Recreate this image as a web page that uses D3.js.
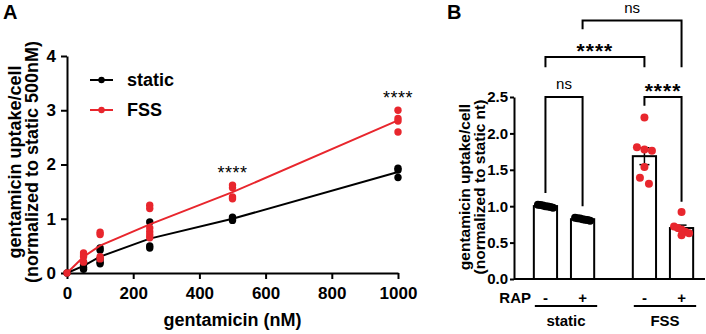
<!DOCTYPE html>
<html>
<head>
<meta charset="utf-8">
<script src="https://cdn.jsdelivr.net/npm/d3@7"></script>
<style>
  body { margin: 0; background: #fff; }
  svg { display: block; font-family: "Liberation Sans", Arial, sans-serif; }
</style>
</head>
<body>
<svg id="chart" width="706" height="334"></svg>
<script>
// ---- panel A data: uptake per dose, one list of replicates per dose
const doses = [0, 50, 100, 250, 500, 1000];
const staticUptake = [[0], [0.2, 0.15, 0.1, 0.07], [0.46, 0.42, 0.26, 0.2, 0.17], [0.94, 0.5, 0.46], [1.03, 1.0, 0.97], [1.93, 1.9, 1.76]];
const fssUptake = [[0], [0.37, 0.33, 0.3, 0.2], [0.75, 0.71, 0.3, 0.26], [1.25, 1.19, 0.83, 0.76, 0.7, 0.65], [1.62, 1.57, 1.4, 1.37], [3.0, 2.85, 2.8, 2.6]];
const doseTicks = [0, 200, 400, 600, 800, 1000];
const uptakeTicks = [0, 1, 2, 3, 4];
const starDoses = [500, 1000];

// ---- panel B data
const groups = ["static", "FSS"];
const rapLevels = ["-", "+"];
const staticNoRap = [1.02, 1.015, 1.01, 1.0, 0.995, 0.99, 0.98];
const staticRap = [0.84, 0.835, 0.83, 0.82, 0.815, 0.81, 0.8];
const fssNoRap = [2.22, 1.81, 1.78, 1.76, 1.54, 1.39, 1.31];
const fssRap = [0.92, 0.72, 0.7, 0.68, 0.65, 0.63, 0.6];
const normTicks = [0, 0.5, 1.0, 1.5, 2.0, 2.5];

const red = "#e8262d";
const svg = d3.select("#chart");

function styleAxis(g, size) {
  g.attr("font-family", null).attr("font-size", size).attr("font-weight", "bold");
  g.selectAll("path, line").attr("stroke", "#000").attr("stroke-width", 2);
  g.selectAll("text").attr("fill", "#000");
}

// prism-like scatter: points closer than one dot go in a row, squeezed to fit the bar
function scatterRows(values, cy, rowH, gap, maxSpan) {
  const sorted = values.map(v => ({v, y: cy(v)})).sort((a, b) => a.y - b.y);
  const out = [];
  let i = 0;
  while (i < sorted.length) {
    const row = [sorted[i]];
    let j = i + 1;
    while (j < sorted.length && sorted[j].y - sorted[i].y < rowH) row.push(sorted[j++]);
    const sp = row.length > 1 ? Math.min(gap, maxSpan / (row.length - 1)) : 0;
    row.forEach((p, k) => out.push({v: p.v, y: p.y, dx: (k - (row.length - 1) / 2) * sp}));
    i = j;
  }
  return out;
}

// ================= panel A =================
const x = d3.scaleLinear().domain([0, 1000]).range([67, 398]);
const y = d3.scaleLinear().domain([0, 4]).range([273, 56]);
const gA = svg.append("g");

gA.append("g")
  .attr("transform", `translate(0,${y(0)})`)
  .call(d3.axisBottom(x).tickValues(doseTicks).tickFormat(d3.format("d")).tickSize(6).tickSizeOuter(0).tickPadding(8))
  .call(g => styleAxis(g, 17));

gA.append("g")
  .attr("transform", `translate(${x(0)},0)`)
  .call(d3.axisLeft(y).tickValues(uptakeTicks).tickFormat(d3.format("d")).tickSize(6).tickSizeOuter(0).tickPadding(5))
  .call(g => styleAxis(g, 17));

gA.append("text").attr("x", 3).attr("y", 19)
  .attr("font-size", 20).attr("font-weight", "bold").text("A");

gA.append("text")
  .attr("x", (x(0) + x(1000)) / 2).attr("y", 326)
  .attr("text-anchor", "middle").attr("font-size", 18).attr("font-weight", "bold")
  .text("gentamicin (nM)");

const yTitleA = gA.append("g").attr("transform", "translate(0,162) rotate(-90)")
  .attr("text-anchor", "middle").attr("font-size", 18).attr("font-weight", "bold");
yTitleA.append("text").attr("y", 21).text("gentamicin uptake/cell");
yTitleA.append("text").attr("y", 38).text("(normalized to static 500nM)");

const seriesA = [
  {name: "static", color: "#000", reps: staticUptake},
  {name: "FSS", color: red, reps: fssUptake}
];

const line = d3.line().x(d => x(d.dose)).y(d => y(d.mean));

seriesA.forEach(s => {
  const means = doses.map((d, i) => ({dose: d, mean: d3.mean(s.reps[i])}));
  gA.append("path").datum(means)
    .attr("fill", "none").attr("stroke", s.color).attr("stroke-width", 2)
    .attr("d", line);
  const pts = doses.flatMap((d, i) => s.reps[i].map(v => ({dose: d, v})));
  gA.append("g").selectAll("circle").data(pts).join("circle")
    .attr("cx", d => x(d.dose)).attr("cy", d => y(d.v)).attr("r", 3.7)
    .attr("fill", s.color);
});

// legend
seriesA.forEach((s, i) => {
  const ly = 80 + i * 30;
  const lg = gA.append("g");
  lg.append("line").attr("x1", 90).attr("x2", 113).attr("y1", ly).attr("y2", ly)
    .attr("stroke", s.color).attr("stroke-width", 2);
  lg.append("circle").attr("cx", 101.5).attr("cy", ly).attr("r", 3.2).attr("fill", s.color);
  lg.append("text").attr("x", 127).attr("y", ly).attr("dy", "0.35em")
    .attr("font-size", 18).attr("font-weight", "bold").text(s.name);
});

// significance stars above each flagged dose
starDoses.forEach(d => {
  const i = doses.indexOf(d);
  const top = d3.max([...staticUptake[i], ...fssUptake[i]]);
  gA.append("text").attr("x", x(d)).attr("y", y(top) - 6)
    .attr("text-anchor", "middle").attr("font-size", 18).attr("letter-spacing", 0.5)
    .text("****");
});

// ================= panel B =================
const yB = d3.scaleLinear().domain([0, 2.5]).range([279, 97]);
const axisBx = 514;
const xg = d3.scaleBand().domain(groups).range([517, 710]).paddingInner(0.25).paddingOuter(0.1);
const xr = d3.scaleBand().domain(rapLevels).range([0, xg.bandwidth()]).paddingInner(0.374).paddingOuter(0.187);
const gB = svg.append("g");

const barData = [
  {group: "static", rap: "-", vals: staticNoRap, color: "#000"},
  {group: "static", rap: "+", vals: staticRap, color: "#000"},
  {group: "FSS", rap: "-", vals: fssNoRap, color: red},
  {group: "FSS", rap: "+", vals: fssRap, color: red}
];
barData.forEach(b => {
  b.mean = d3.mean(b.vals);
  b.sem = d3.deviation(b.vals) / Math.sqrt(b.vals.length);
  b.x0 = xg(b.group) + xr(b.rap);
  b.cx = b.x0 + xr.bandwidth() / 2;
});

gB.append("g")
  .attr("transform", `translate(${axisBx},0)`)
  .call(d3.axisLeft(yB).tickValues(normTicks).tickFormat(d3.format(".1f")).tickSize(4).tickSizeOuter(0).tickPadding(2))
  .call(g => styleAxis(g, 15));

gB.append("line").attr("x1", axisBx).attr("x2", 705).attr("y1", yB(0)).attr("y2", yB(0))
  .attr("stroke", "#000").attr("stroke-width", 2);

gB.selectAll("rect.bar").data(barData).join("rect")
  .attr("x", d => d.x0).attr("width", xr.bandwidth())
  .attr("y", d => yB(d.mean)).attr("height", d => yB(0) - yB(d.mean))
  .attr("fill", "#fff").attr("stroke", "#000").attr("stroke-width", 2);

// SEM bars
barData.forEach(b => {
  const eg = gB.append("g").attr("stroke", "#000").attr("stroke-width", 1.5);
  eg.append("line").attr("x1", b.cx).attr("x2", b.cx).attr("y1", yB(b.mean - b.sem)).attr("y2", yB(b.mean + b.sem));
  [b.mean - b.sem, b.mean + b.sem].forEach(v =>
    eg.append("line").attr("x1", b.cx - 5).attr("x2", b.cx + 5).attr("y1", yB(v)).attr("y2", yB(v)));
});

barData.forEach(b => {
  gB.append("g").selectAll("circle").data(scatterRows(b.vals, yB, 8, 9, 15)).join("circle")
    .attr("cx", d => b.cx + d.dx).attr("cy", d => d.y).attr("r", 4).attr("fill", b.color);
});

gB.append("text").attr("x", 447).attr("y", 19)
  .attr("font-size", 20).attr("font-weight", "bold").text("B");

const yTitleB = gB.append("g").attr("transform", "translate(0,187) rotate(-90)")
  .attr("text-anchor", "middle").attr("font-size", 15.5).attr("font-weight", "bold");
yTitleB.append("text").attr("y", 470).text("gentamicin uptake/cell");
yTitleB.append("text").attr("y", 485).text("(normalized to static nt)");

// RAP row and group labels
gB.append("text").attr("x", 531).attr("y", 303).attr("text-anchor", "end")
  .attr("font-size", 15).attr("font-weight", "bold").text("RAP");
gB.selectAll("text.rap").data(barData).join("text")
  .attr("x", d => d.cx).attr("y", 303).attr("text-anchor", "middle")
  .attr("font-size", 15).attr("font-weight", "bold").text(d => d.rap);
groups.forEach(g => {
  const left = xg(g) + xr(rapLevels[0]);
  const right = xg(g) + xr(rapLevels[1]) + xr.bandwidth();
  gB.append("line").attr("x1", left + 1).attr("x2", right + 3).attr("y1", 306).attr("y2", 306)
    .attr("stroke", "#000").attr("stroke-width", 2);
  gB.append("text").attr("x", (left + right) / 2 + 2).attr("y", 326).attr("text-anchor", "middle")
    .attr("font-size", 15).attr("font-weight", "bold").text(g);
});

// comparison brackets
const cxOf = (g, r) => barData.find(b => b.group === g && b.rap === r).cx;
const brackets = [
  {a: ["static", "-"], b: ["static", "+"], top: 2.5, endA: 1.18, endB: 1.0, label: "ns"},
  {a: ["FSS", "-"], b: ["FSS", "+"], top: 2.5, endA: 2.38, endB: 1.06, label: "****"},
  {a: ["static", "-"], b: ["FSS", "-"], top: 3.05, endA: 2.91, endB: 2.91, label: "****"},
  {a: ["static", "+"], b: ["FSS", "+"], top: 3.55, endA: 3.43, endB: 2.91, label: "ns"}
];
brackets.forEach(br => {
  const xa = cxOf(...br.a), xb = cxOf(...br.b);
  gB.append("path")
    .attr("d", `M${xa},${yB(br.endA)}V${yB(br.top)}H${xb}V${yB(br.endB)}`)
    .attr("fill", "none").attr("stroke", "#000").attr("stroke-width", 2);
  const stars = br.label !== "ns";
  gB.append("text").attr("x", (xa + xb) / 2).attr("y", stars ? yB(br.top) + 1 : yB(br.top) - 8)
    .attr("text-anchor", "middle")
    .attr("font-size", stars ? 21 : 15).attr("font-weight", stars ? "bold" : "normal")
    .attr("letter-spacing", stars ? 1 : 0)
    .text(br.label);
});
</script>
</body>
</html>
